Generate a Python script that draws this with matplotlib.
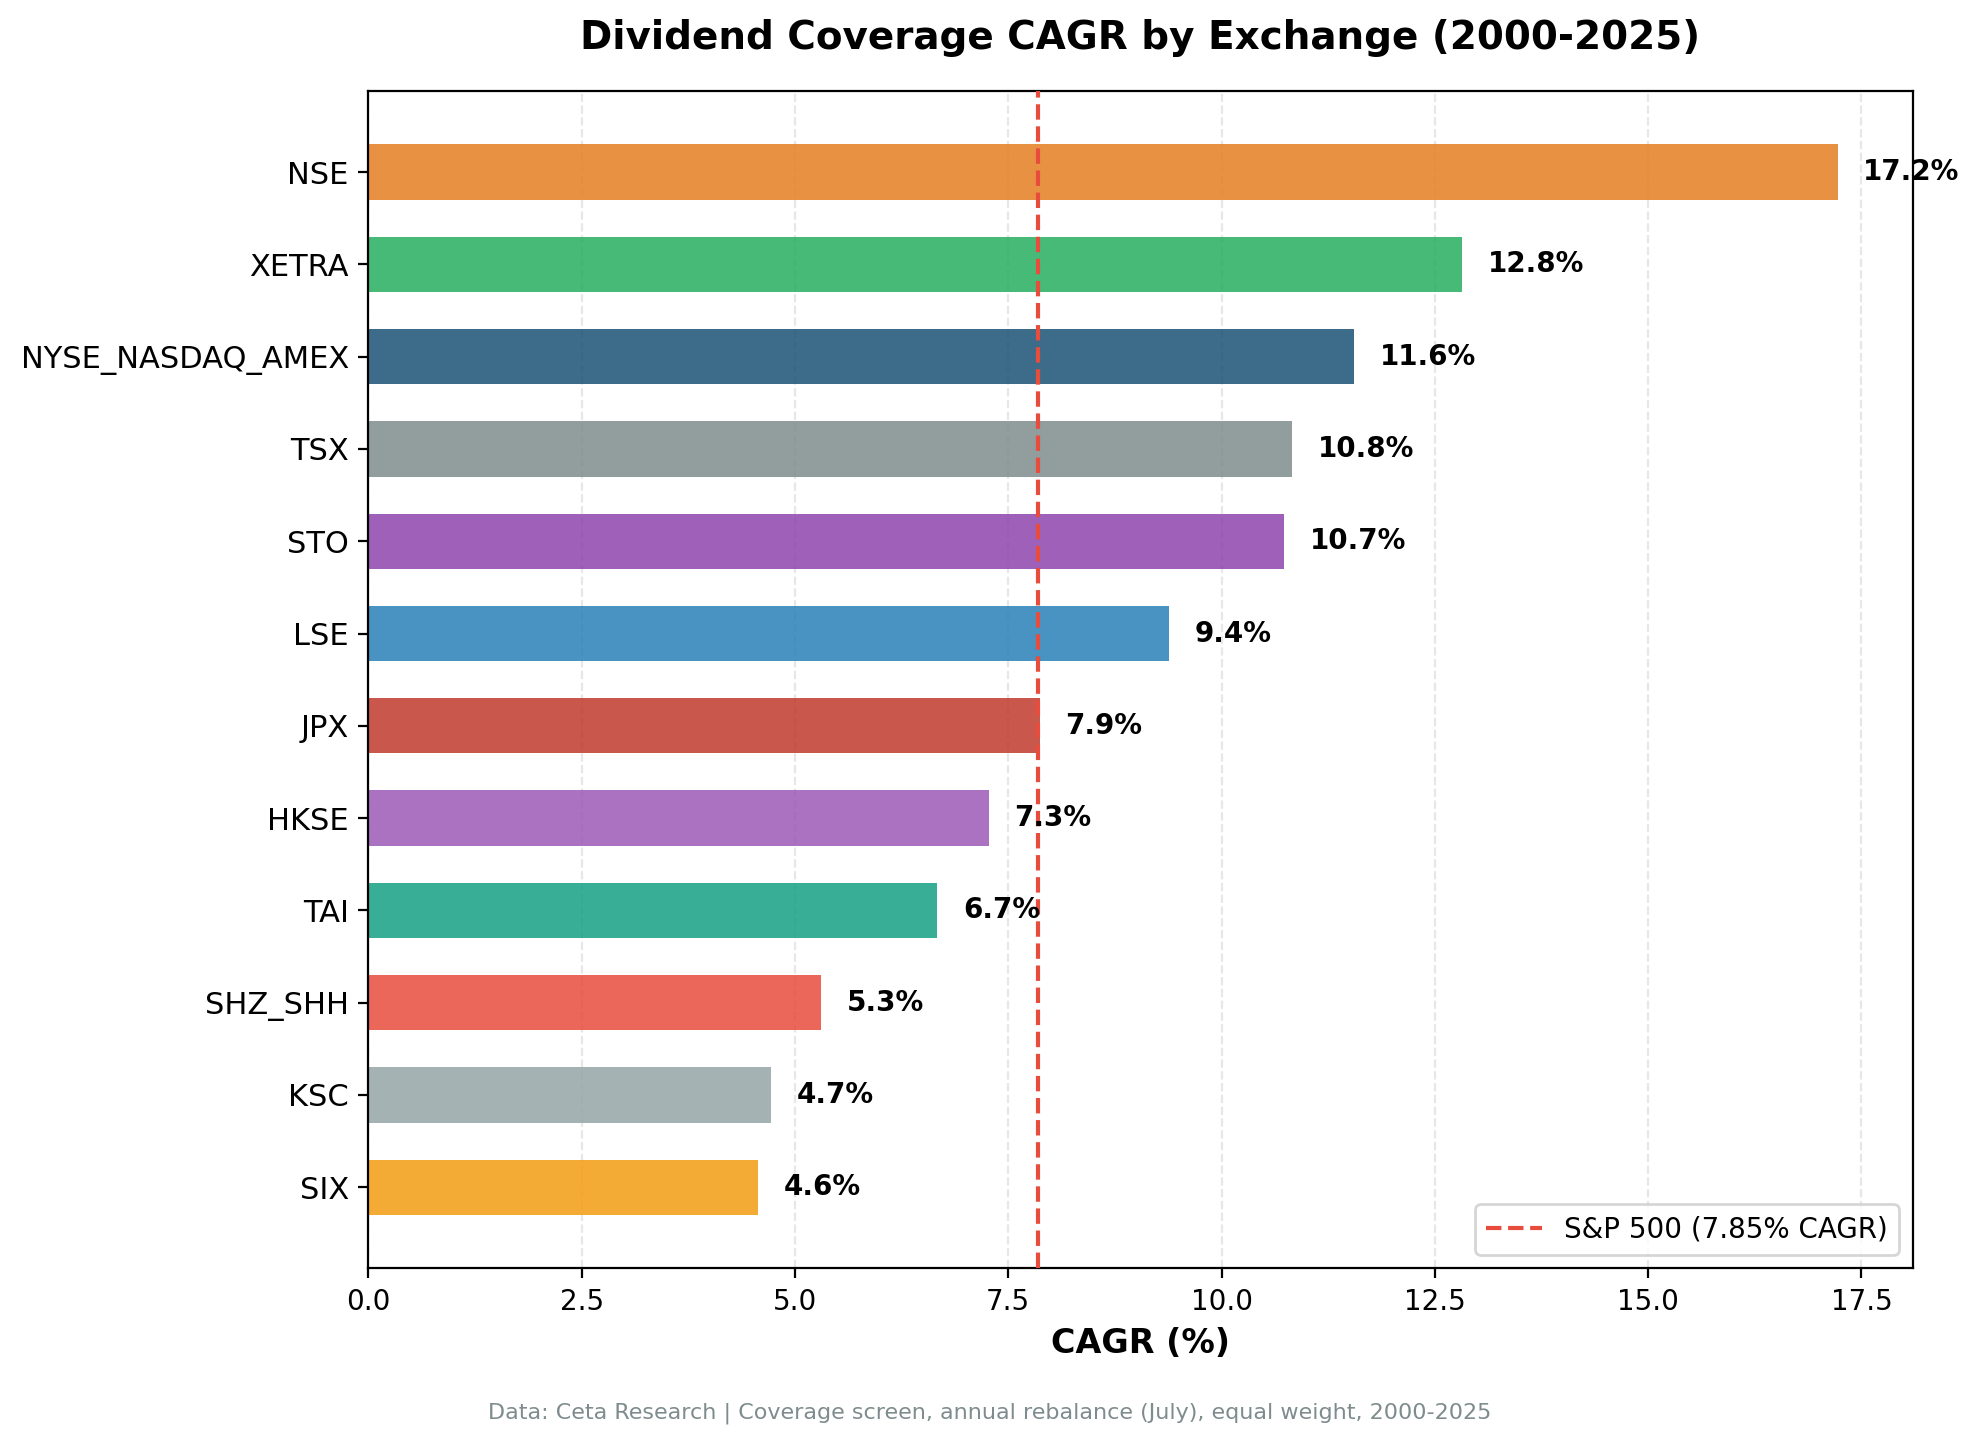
import matplotlib
matplotlib.use('Agg')
import matplotlib.pyplot as plt

# Exchanges from bottom to top
exchanges = ['SIX', 'KSC', 'SHZ_SHH', 'TAI', 'HKSE', 'JPX', 'LSE', 'STO', 'TSX',
             'NYSE_NASDAQ_AMEX', 'XETRA', 'NSE']
cagr = [4.57, 4.72, 5.31, 6.67, 7.27, 7.87, 9.38, 10.73, 10.83, 11.55, 12.82, 17.22]
labels = ['4.6%', '4.7%', '5.3%', '6.7%', '7.3%', '7.9%', '9.4%', '10.7%', '10.8%',
          '11.6%', '12.8%', '17.2%']
colors = ['#f39c12', '#95a5a6', '#e74c3c', '#16a085', '#9b59b6', '#c0392b', '#2980b9',
          '#8e44ad', '#7f8c8d', '#1a5276', '#27ae60', '#e67e22']
spy_cagr = 7.85

fig, ax = plt.subplots(figsize=(9.9, 7.215), dpi=200)
fig.subplots_adjust(left=0.186, right=0.966, top=0.937, bottom=0.121)

ax.barh(exchanges, cagr, height=0.6, color=colors, alpha=0.85, zorder=2)
ax.axvline(spy_cagr, color='#e74c3c', linestyle='--', linewidth=1.5,
           label=f'S&P 500 ({spy_cagr}% CAGR)', zorder=3)

for i, (v, t) in enumerate(zip(cagr, labels)):
    ax.text(v + 0.3, i, t, va='center', ha='left', fontsize=10, fontweight='bold')

ax.set_xlim(0, 18.1)
ax.set_xlabel('CAGR (%)', fontsize=12, fontweight='bold')
ax.set_title('Dividend Coverage CAGR by Exchange (2000-2025)', fontsize=14,
             fontweight='bold', pad=15)
ax.tick_params(axis='y', labelsize=11)
ax.tick_params(axis='x', labelsize=10)
ax.grid(axis='x', linestyle='--', alpha=0.3, zorder=0)
ax.set_axisbelow(True)
ax.legend(loc='lower right', fontsize=10)

fig.text(0.5, 0.017, 'Data: Ceta Research | Coverage screen, annual rebalance (July), equal weight, 2000-2025',
         ha='center', fontsize=8, color='#7f8c8d')

plt.savefig('out.png', dpi=200)
